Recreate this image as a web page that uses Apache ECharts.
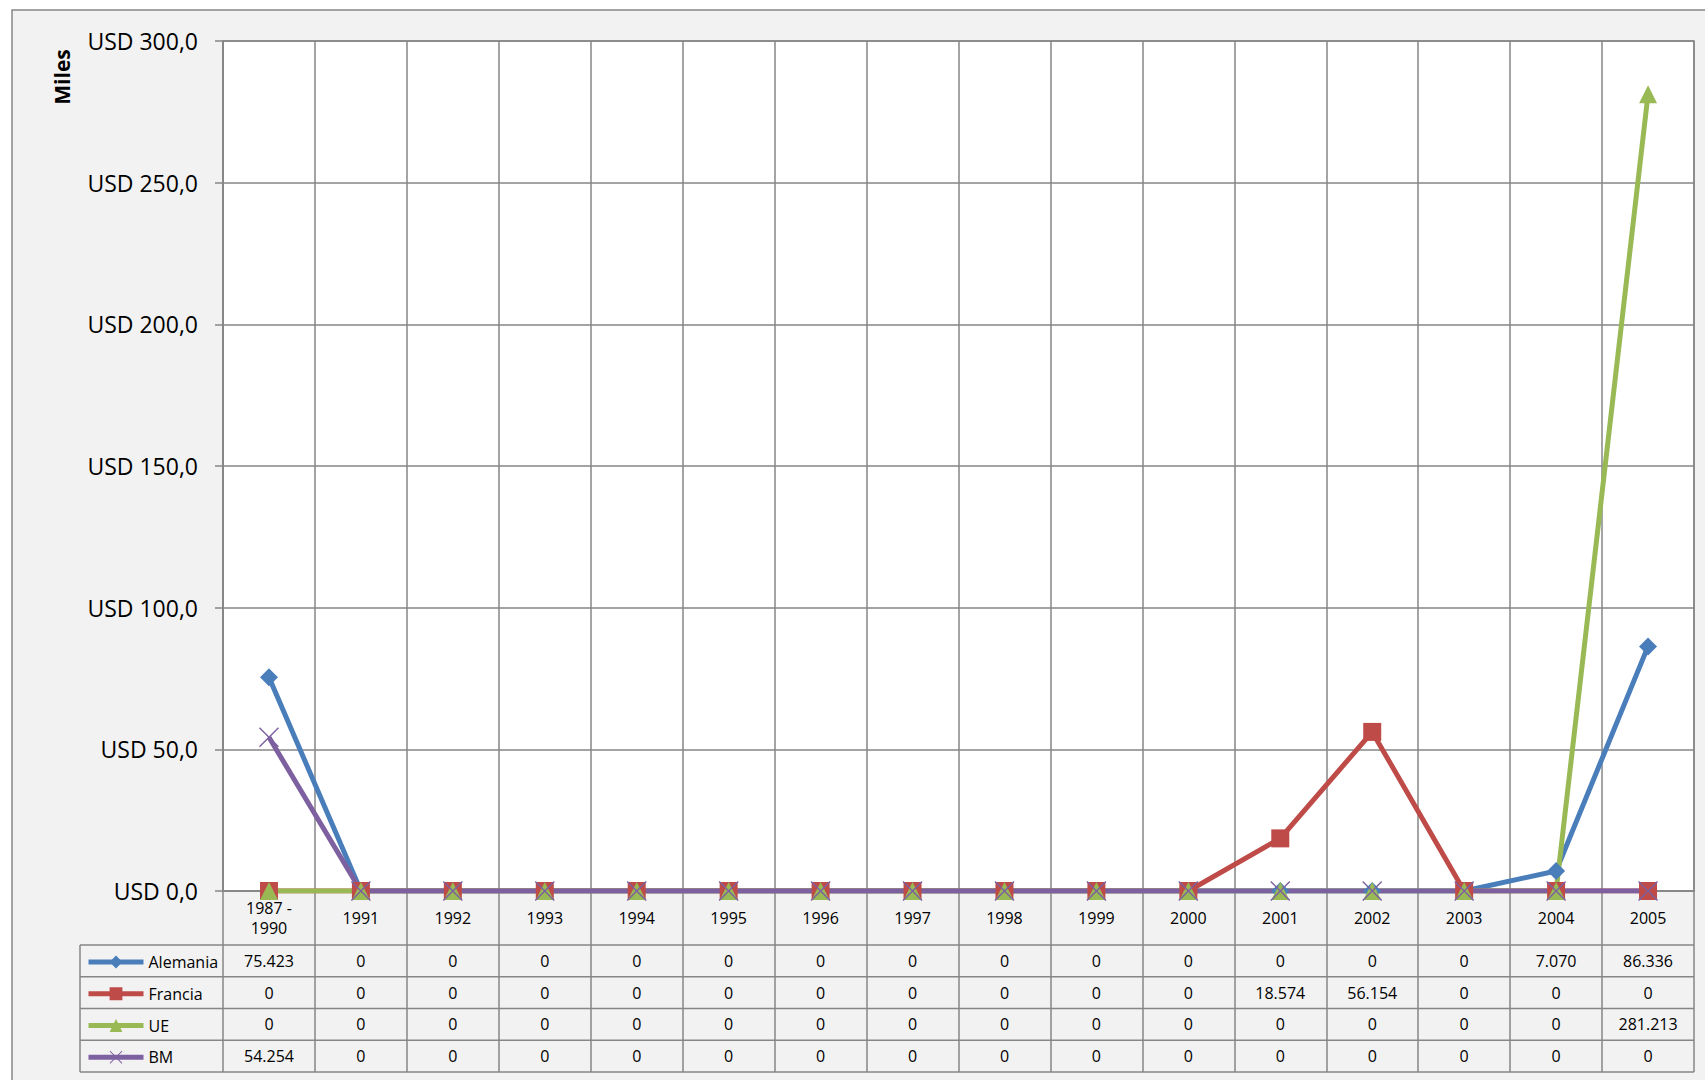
<!DOCTYPE html>
<html>
<head>
<meta charset="utf-8">
<title>Miles USD</title>
<script src="https://cdn.jsdelivr.net/npm/echarts@6/dist/echarts.min.js"></script>
<style>
    html, body { margin: 0; padding: 0; background: #ffffff; }
    #chart { width: 1705px; height: 1080px; }
</style>
</head>
<body>
<div id="chart"></div>
<script>
// 数据
var categories = ['1987 -\n1990', '1991', '1992', '1993', '1994', '1995', '1996', '1997', '1998', '1999', '2000', '2001', '2002', '2003', '2004', '2005']
var alemania = [75.423, 0, 0, 0, 0, 0, 0, 0, 0, 0, 0, 0, 0, 0, 7.070, 86.336]
var francia = [0, 0, 0, 0, 0, 0, 0, 0, 0, 0, 0, 18.574, 56.154, 0, 0, 0]
var ue = [0, 0, 0, 0, 0, 0, 0, 0, 0, 0, 0, 0, 0, 0, 0, 281.213]
var bm = [54.254, 0, 0, 0, 0, 0, 0, 0, 0, 0, 0, 0, 0, 0, 0, 0]
var seriesNames = ['Alemania', 'Francia', 'UE', 'BM']
var yMin = 0
var yMax = 300
var yStep = 50

// 布局
var gridLeft = 223
var gridTop = 41
var gridRight = 11
var gridBottom = 189 // x轴位置 1080 - 189 = 891
var axisY = 891
var headerBottom = 945
var rowH = 31.75
var tableLeft = 80
var tableRight = 1694
var gridColor = '#868686'
var font = 'Open Sans'

var colors = ['#4a7ebb', '#be4b48', '#98b954', '#7d60a0']
var symbols = [
    'diamond',
    'rect',
    'triangle',
    'path://M0,1L1,0L10,9L19,0L20,1L11,10L20,19L19,20L10,11L1,20L0,19L9,10Z'
]
var symbolSizes = [18, 18, 18, 20]
var allData = [alemania, francia, ue, bm]

function fmtValue (v) {
    return v === 0 ? '0' : v.toFixed(3)
}

function fmtAxis (v) {
    return 'USD ' + v.toFixed(1).replace('.', ',')
}

var chart = echarts.init(document.getElementById('chart'), null, { renderer: 'svg' })

// 主x轴 + 表格每行一个x轴（显示数值）
var xAxes = [{
    type: 'category',
    data: categories,
    boundaryGap: true,
    axisLine: { show: true, lineStyle: { color: gridColor, width: 1.5 } },
    axisTick: {
        show: true,
        interval: 0,
        length: headerBottom - axisY + rowH * 4, // 竖线贯穿表格
        lineStyle: { color: gridColor, width: 1.5 }
    },
    splitLine: { show: true, interval: 0, lineStyle: { color: gridColor, width: 1.5 } },
    axisLabel: {
        interval: 0,
        margin: 27,
        verticalAlign: 'middle',
        lineHeight: 20,
        fontFamily: font,
        fontSize: 16,
        color: '#000'
    }
}]
allData.forEach(function (arr, i) {
    xAxes.push({
        type: 'category',
        position: 'bottom',
        data: arr.map(fmtValue),
        offset: headerBottom + rowH * i + rowH / 2 - axisY,
        axisLine: { show: false },
        axisTick: { show: false },
        splitLine: { show: false },
        axisLabel: {
            interval: 0,
            margin: 0,
            verticalAlign: 'middle',
            fontFamily: font,
            fontSize: 16,
            color: '#000'
        }
    })
})

var series = allData.map(function (arr, i) {
    return {
        name: seriesNames[i],
        type: 'line',
        data: arr,
        xAxisIndex: 0,
        symbol: symbols[i],
        symbolSize: symbolSizes[i],
        symbolKeepAspect: true,
        lineStyle: { color: colors[i], width: 5 },
        itemStyle: { color: colors[i] }
    }
})

// 表格横线
var tableLines = []
for (var r = 0; r <= 4; r++) {
    var y = headerBottom + rowH * r
    tableLines.push({
        type: 'line',
        shape: { x1: tableLeft, y1: y, x2: tableRight, y2: y },
        style: { stroke: gridColor, lineWidth: 1.5 }
    })
}
tableLines.push({
    type: 'line',
    shape: { x1: tableLeft, y1: headerBottom, x2: tableLeft, y2: headerBottom + rowH * 4 },
    style: { stroke: gridColor, lineWidth: 1.5 }
})

var option = {
    animation: false,
    backgroundColor: '#ffffff',
    grid: {
        left: gridLeft,
        top: gridTop,
        right: gridRight,
        bottom: gridBottom,
        show: true,
        backgroundColor: '#ffffff',
        borderColor: gridColor,
        borderWidth: 1.5
    },
    legend: {
        data: seriesNames,
        orient: 'vertical',
        left: 86,
        top: headerBottom + 9,
        padding: 0,
        itemWidth: 55,
        itemHeight: 16,
        itemGap: rowH - 16,
        selectedMode: false,
        lineStyle: { width: 5 },
        textStyle: { fontFamily: font, fontSize: 16, color: '#000' }
    },
    xAxis: xAxes,
    yAxis: {
        type: 'value',
        min: yMin,
        max: yMax,
        interval: yStep,
        axisLine: { show: true, lineStyle: { color: gridColor, width: 1.5 } },
        axisTick: { show: true, length: 8, lineStyle: { color: gridColor, width: 1.5 } },
        splitLine: { show: true, lineStyle: { color: gridColor, width: 1.5 } },
        axisLabel: {
            margin: 25,
            formatter: fmtAxis,
            fontFamily: font,
            fontSize: 23,
            color: '#000'
        }
    },
    graphic: [
        {
            // 外框背景
            type: 'rect',
            z: -100,
            shape: { x: 12, y: 10, width: 1720, height: 1100 },
            style: { fill: '#f2f2f2', stroke: gridColor, lineWidth: 1.5 }
        },
        {
            type: 'text',
            x: 62,
            y: 77,
            rotation: Math.PI / 2,
            style: {
                text: 'Miles',
                fontFamily: font,
                fontSize: 21,
                fontWeight: 'bold',
                fill: '#000',
                align: 'center',
                verticalAlign: 'middle'
            }
        }
    ].concat(tableLines),
    series: series
}

option && chart.setOption(option)
</script>
</body>
</html>
